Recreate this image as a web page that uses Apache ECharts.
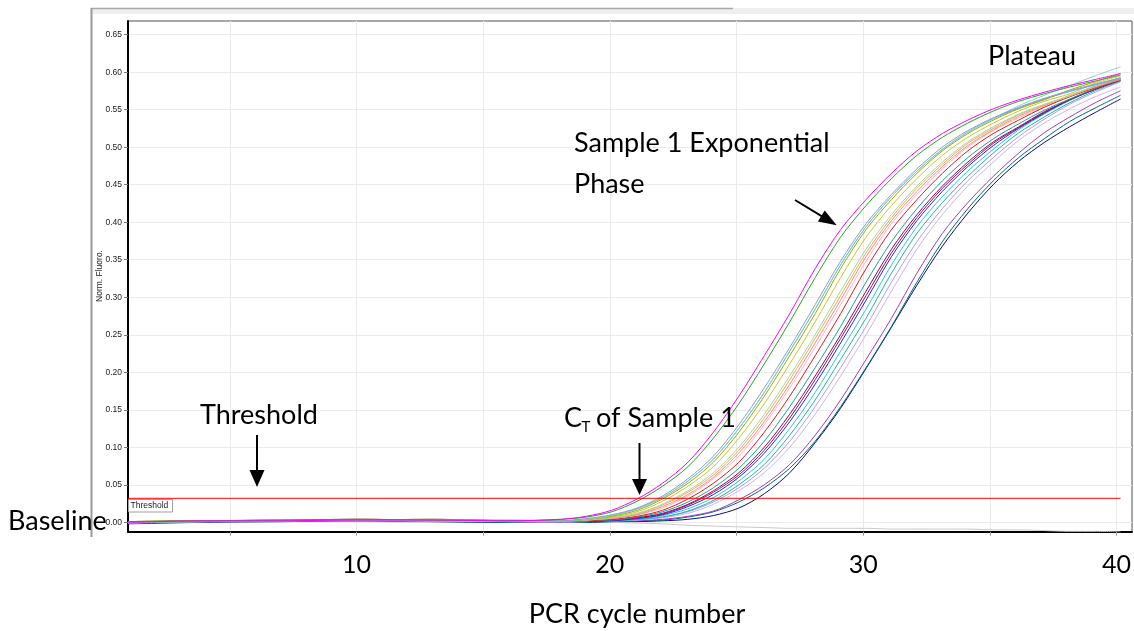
<!DOCTYPE html>
<html><head><meta charset="utf-8">
<script src="https://cdn.jsdelivr.net/npm/echarts@6/dist/echarts.min.js"></script>
<style>html,body{margin:0;padding:0;background:#fff}#c{width:1134px;height:631px}</style>
</head><body><div id="c"></div>
<script>
// PCR cycles at which values are read
const cycles = [1,4,7,10,13,16,18,19,20,21,22,23,24,25,26,27,28,29,30,31,32,33,34,35,36,37,38,39,40];
const thresholdValue = 0.032;
const xTickLabels = [10, 20, 30, 40];

const magentaS1  = [0.000,0.002,0.002,0.003,0.003,0.002, 0.004,0.008,0.016,0.031,0.052,0.080,0.120,0.168,0.222,0.278,0.338,0.390,0.430,0.465,0.495,0.518,0.536,0.551,0.563,0.573,0.582,0.590,0.598];
const green      = [0.001,0.002,0.003,0.004,0.003,0.002, 0.004,0.007,0.014,0.028,0.048,0.074,0.112,0.158,0.211,0.267,0.326,0.380,0.422,0.458,0.489,0.513,0.532,0.548,0.561,0.571,0.580,0.588,0.596];
const grayBlue   = [-0.001,0.001,0.002,0.003,0.004,0.002, 0.002,0.005,0.010,0.019,0.035,0.058,0.088,0.130,0.179,0.233,0.290,0.348,0.398,0.437,0.471,0.500,0.522,0.539,0.553,0.565,0.575,0.584,0.592];
const aquamarine = [0.000,0.001,0.003,0.003,0.002,0.001, 0.002,0.004,0.009,0.018,0.033,0.055,0.084,0.125,0.173,0.228,0.284,0.343,0.394,0.434,0.468,0.497,0.520,0.538,0.555,0.569,0.582,0.595,0.607];
const olive      = [0.001,0.002,0.002,0.004,0.003,0.003, 0.002,0.004,0.008,0.016,0.031,0.052,0.080,0.120,0.168,0.222,0.278,0.338,0.390,0.430,0.465,0.495,0.518,0.536,0.551,0.563,0.576,0.587,0.598];
const lightBlue  = [0.000,0.001,0.002,0.003,0.003,0.002, 0.002,0.004,0.009,0.018,0.033,0.055,0.084,0.125,0.173,0.228,0.284,0.343,0.394,0.434,0.468,0.497,0.520,0.538,0.552,0.564,0.574,0.583,0.592];
const yellowGreen= [0.001,0.001,0.002,0.003,0.004,0.002, 0.002,0.004,0.007,0.014,0.028,0.048,0.074,0.112,0.158,0.211,0.267,0.326,0.380,0.422,0.458,0.489,0.513,0.532,0.548,0.561,0.571,0.585,0.595];
const paleGreen  = [0.000,0.002,0.003,0.003,0.002,0.002, 0.002,0.003,0.006,0.012,0.024,0.042,0.066,0.100,0.144,0.195,0.250,0.308,0.364,0.410,0.448,0.480,0.507,0.527,0.544,0.557,0.568,0.582,0.593];
const salmon     = [-0.001,0.001,0.002,0.004,0.003,0.001, 0.001,0.003,0.005,0.010,0.021,0.037,0.060,0.092,0.134,0.184,0.239,0.296,0.354,0.402,0.441,0.474,0.502,0.523,0.541,0.555,0.569,0.581,0.591];
const orange     = [0.001,0.002,0.003,0.003,0.002,0.002, 0.002,0.003,0.006,0.011,0.023,0.040,0.063,0.096,0.139,0.190,0.245,0.302,0.359,0.406,0.445,0.477,0.505,0.525,0.543,0.556,0.568,0.580,0.590];
const red        = [0.000,0.002,0.002,0.003,0.004,0.002, 0.001,0.002,0.004,0.008,0.016,0.031,0.052,0.080,0.120,0.168,0.222,0.278,0.338,0.390,0.430,0.465,0.495,0.518,0.536,0.553,0.567,0.579,0.591];
const lightPink  = [0.001,0.001,0.002,0.002,0.003,0.001, 0.001,0.002,0.005,0.010,0.019,0.035,0.058,0.088,0.130,0.179,0.233,0.290,0.348,0.398,0.437,0.471,0.500,0.522,0.539,0.553,0.568,0.580,0.591];
const teal       = [0.000,0.001,0.002,0.003,0.002,0.001, 0.001,0.002,0.003,0.007,0.014,0.027,0.046,0.072,0.108,0.154,0.206,0.261,0.320,0.374,0.418,0.455,0.486,0.511,0.531,0.549,0.564,0.578,0.590];
const darkRed    = [0.001,0.002,0.003,0.004,0.003,0.002, 0.001,0.002,0.003,0.006,0.012,0.024,0.042,0.066,0.100,0.144,0.195,0.250,0.308,0.364,0.410,0.448,0.480,0.507,0.527,0.547,0.563,0.577,0.589];
const blue       = [-0.001,0.001,0.001,0.002,0.002,0.001, 0.001,0.001,0.002,0.005,0.010,0.021,0.037,0.060,0.092,0.134,0.184,0.239,0.296,0.354,0.402,0.441,0.474,0.502,0.525,0.545,0.563,0.577,0.590];
const purple     = [0.000,0.002,0.002,0.003,0.003,0.002, 0.001,0.002,0.003,0.006,0.011,0.023,0.040,0.063,0.096,0.139,0.190,0.245,0.302,0.359,0.406,0.445,0.477,0.505,0.526,0.546,0.563,0.577,0.589];
const teal2      = [0.001,0.001,0.002,0.003,0.002,0.001, 0.001,0.001,0.002,0.004,0.007,0.015,0.029,0.050,0.077,0.116,0.163,0.217,0.272,0.332,0.385,0.426,0.461,0.492,0.519,0.540,0.559,0.575,0.588];
const cyan       = [0.000,0.001,0.001,0.002,0.002,0.001, 0.001,0.001,0.002,0.004,0.009,0.018,0.033,0.055,0.084,0.125,0.173,0.228,0.284,0.343,0.394,0.434,0.468,0.497,0.523,0.544,0.562,0.577,0.590];
const lavender   = [0.000,0.001,0.002,0.002,0.002,0.001, 0.000,0.001,0.002,0.003,0.007,0.014,0.027,0.046,0.072,0.108,0.154,0.206,0.261,0.320,0.374,0.418,0.455,0.486,0.514,0.537,0.557,0.573,0.587];
const lavender2  = [-0.001,0.001,0.001,0.002,0.002,0.001, 0.001,0.001,0.002,0.003,0.006,0.012,0.024,0.042,0.066,0.100,0.144,0.195,0.250,0.308,0.364,0.410,0.448,0.480,0.509,0.532,0.551,0.567,0.580];
const purple2    = [0.000,0.001,0.002,0.003,0.002,0.001, 0.000,0.001,0.001,0.002,0.004,0.008,0.015,0.030,0.050,0.077,0.116,0.163,0.217,0.272,0.332,0.385,0.426,0.461,0.492,0.519,0.540,0.559,0.575];
const darkTeal   = [0.000,0.001,0.001,0.002,0.001,0.000, 0.000,0.000,0.001,0.002,0.003,0.007,0.014,0.027,0.046,0.072,0.108,0.154,0.206,0.261,0.320,0.374,0.418,0.455,0.486,0.511,0.534,0.552,0.569];
const darkBlue   = [-0.002,0.000,0.001,0.002,0.001,0.000, 0.000,0.000,0.001,0.001,0.002,0.004,0.009,0.019,0.038,0.066,0.106,0.152,0.205,0.260,0.316,0.368,0.412,0.450,0.481,0.506,0.527,0.546,0.564];
const negControl = [0.000,0.001,0.001,0.001,0.000,0.001, 0.001,0.001,0.000,-0.001,-0.002,-0.004,-0.005,-0.006,-0.007,-0.008,-0.008,-0.008,-0.008,-0.009,-0.009,-0.009,-0.009,-0.010,-0.010,-0.011,-0.012,-0.012,-0.013];

// drawing order: first drawn = bottom
const curves = [negControl, darkBlue, darkTeal, purple2, lavender2, lavender, cyan, teal2, purple, blue, darkRed, teal, lightPink, red, orange, salmon, paleGreen, yellowGreen, lightBlue, olive, aquamarine, grayBlue, green, magentaS1];
const curveColors = ['#c8c8c8','#0a0a8c','#006d6d','#a03cc8','#cdb5f5','#b39ddb','#33c4d6','#20b2aa','#7a1f8a','#2424ee','#b2003c','#17a2a2','#ffb6c1','#e41a1c','#ffa54f','#ff8a8a','#99dd99','#c8c832','#4fa3ff','#a6a600','#7fd8c8','#8da0cb','#2ca02c','#ff00ff'];

const chart = echarts.init(document.getElementById('c'), null, {renderer:'canvas'});
const bigFont = 'Lato';
const bigSize = 27;
const series = curves.map((vals, k) => ({
  type:'line', xAxisIndex:0, yAxisIndex:0, showSymbol:false, symbol:'none', smooth:0.3,
  lineStyle:{width:1, color:curveColors[k]}, itemStyle:{color:curveColors[k]},
  data: cycles.map((c,i)=>[c, vals[i]]), z:3
}));
series.push({type:'line', xAxisIndex:0, yAxisIndex:0, showSymbol:false, symbol:'none',
  lineStyle:{width:1, color:'#ff0000'}, data:[[cycles[0], thresholdValue],[cycles[cycles.length-1], thresholdValue]], z:4});

function bigText(x, y, text, align){
  return {type:'text', silent:true, x:x, y:y, z:12,
    style:{text:text, fontSize:bigSize, fontFamily:bigFont, fill:'#000', textAlign:align||'left', textVerticalAlign:'middle'}};
}

chart.setOption({
  animation:false,
  backgroundColor:'#fff',
  grid:[
    {left:128, top:21, width:1004, height:510.7, show:true, borderColor:'#505050', borderWidth:1, backgroundColor:'transparent'},
    {left:128, top:34.7, width:1004, height:487.6},
    {left:229.8, top:21, width:890.7, height:510.7}
  ],
  xAxis:[
    {gridIndex:0, type:'value', min:1, max:40.45, axisLine:{show:true, onZero:false, lineStyle:{color:'#000', width:2}}, axisTick:{show:false}, axisLabel:{show:false}, splitLine:{show:false}},
    {gridIndex:1, type:'value', min:0, max:1, show:false},
    {gridIndex:2, type:'value', min:5, max:40, interval:5, axisLine:{show:false},
      axisTick:{show:true, length:4, lineStyle:{color:'#999'}},
      axisLabel:{show:true, margin:21, fontSize:25, fontFamily:bigFont, color:'#000',
        formatter:(v)=> xTickLabels.indexOf(v) >= 0 ? String(v) : ''},
      splitLine:{show:true, lineStyle:{color:'#ebebeb', width:1}}}
  ],
  yAxis:[
    {gridIndex:0, type:'value', min:-0.0125, max:0.668, axisLine:{show:true, onZero:false, lineStyle:{color:'#000', width:2}}, axisTick:{show:false}, axisLabel:{show:false}, splitLine:{show:false}},
    {gridIndex:1, type:'value', min:0, max:0.65, interval:0.05, axisLine:{show:false},
      axisTick:{show:true, length:4, lineStyle:{color:'#777'}},
      axisLabel:{show:true, margin:6, fontSize:8.5, fontFamily:'Liberation Sans', color:'#222', formatter:(v)=>v.toFixed(2)},
      splitLine:{show:true, lineStyle:{color:'#ebebeb', width:1}}},
    {gridIndex:2, type:'value', min:0, max:1, show:false}
  ],
  series:series,
  graphic:{elements:[
    {type:'rect', silent:true, shape:{x:92, y:8, width:1042, height:6}, style:{fill:'#efefef'}},
    {type:'line', silent:true, shape:{x1:91, y1:8.5, x2:733, y2:8.5}, style:{stroke:'#a8a8a8', lineWidth:1.5}},
    {type:'line', silent:true, shape:{x1:91.5, y1:8, x2:91.5, y2:537}, style:{stroke:'#9a9a9a', lineWidth:2}},
    {type:'rect', silent:true, shape:{x:128.5, y:499.5, width:44, height:12.5}, style:{fill:'#fff', stroke:'#a0a0a0', lineWidth:1}, z:10},
    {type:'text', silent:true, x:130.5, y:506, style:{text:'Threshold', fontSize:8.5, fontFamily:'Liberation Sans', fill:'#222', textAlign:'left', textVerticalAlign:'middle'}, z:11},
    {type:'text', silent:true, x:100, y:276, rotation:Math.PI/2, style:{text:'Norm. Fluoro.', fontSize:8.5, fontFamily:'Liberation Sans', fill:'#222', textAlign:'center', textVerticalAlign:'middle'}},
    bigText(200, 415.5, 'Threshold'),
    bigText(8, 521, 'Baseline'),
    {type:'text', silent:true, x:574, y:143, z:12,
      style:{text:'{a|Sample 1 Exponen}{a|tial}', textAlign:'left', textVerticalAlign:'middle',
        rich:{a:{fontSize:bigSize, fontFamily:bigFont, fill:'#000', color:'#000'}}}},
    bigText(574, 184, 'Phase'),
    bigText(988, 56, 'Plateau'),
    bigText(564, 418, 'C'),
    {type:'text', silent:true, x:581.5, y:427, z:12, style:{text:'T', fontSize:15, fontFamily:bigFont, fill:'#000', textAlign:'left', textVerticalAlign:'middle'}},
    bigText(596, 418, 'of Sample 1'),
    bigText(637, 614, 'PCR cycle number', 'center'),
    // arrows
    {type:'line', silent:true, shape:{x1:257, y1:435, x2:257, y2:472}, style:{stroke:'#000', lineWidth:2}, z:12},
    {type:'polygon', silent:true, shape:{points:[[249.5,470],[264.5,470],[257,487]]}, style:{fill:'#000'}, z:12},
    {type:'line', silent:true, shape:{x1:639.5, y1:443, x2:639.5, y2:481}, style:{stroke:'#000', lineWidth:2}, z:12},
    {type:'polygon', silent:true, shape:{points:[[632,479],[647,479],[639.5,495]]}, style:{fill:'#000'}, z:12},
    {type:'line', silent:true, shape:{x1:795, y1:200, x2:822, y2:216.3}, style:{stroke:'#000', lineWidth:2}, z:12},
    {type:'polygon', silent:true, shape:{points:[[817.9,221.6],[824.7,210.4],[836.7,225.3]]}, style:{fill:'#000'}, z:12}
  ]}
});
</script></body></html>
